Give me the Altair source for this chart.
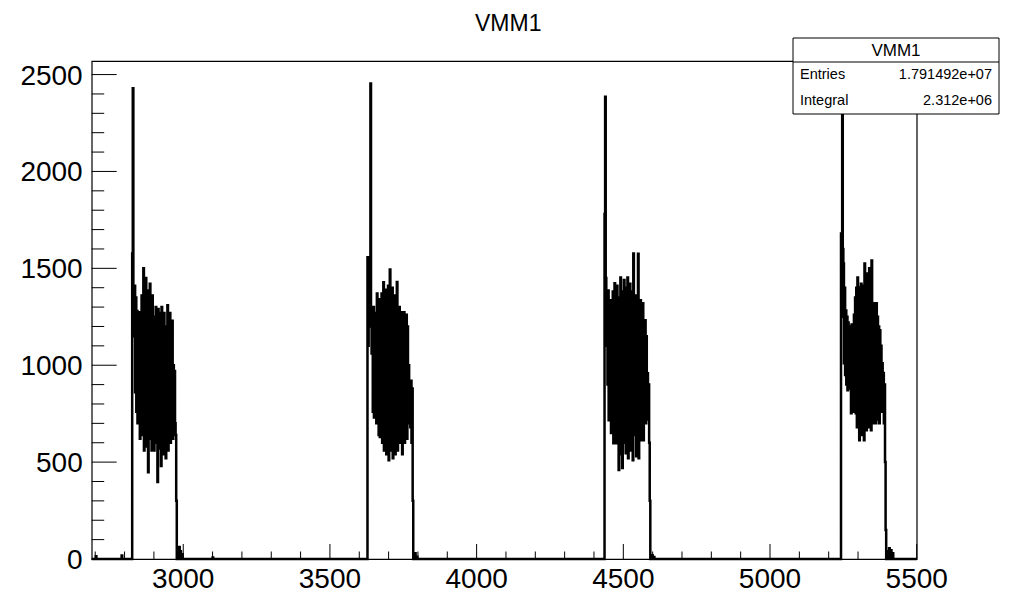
import altair as alt
import numpy as np
import pandas as pd

TITLE = "VMM1"
FONT = "Liberation Sans"

# histogram range and binning
X_MIN, X_MAX = 2688, 5500
Y_MAX = 2570
BIN_WIDTH = 2

# four bursts: first bin edge of each burst and the bin contents
burst_starts = [2826, 3628, 4436, 5242]
burst_1 = [1577, 2430, 1380, 1150, 1410, 860, 1350, 760, 1280, 700,
           1230, 960, 1273, 620, 1180, 900, 1360, 640, 1100, 1500,
           560, 1260, 1010, 1450, 580, 1320, 900, 448, 1385, 760,
           1420, 620, 1200, 560, 1360, 880, 1250, 560, 1150, 700,
           1300, 600, 1210, 397, 1290, 820, 1270, 570, 1180, 480,
           1300, 900, 1240, 540, 1270, 760, 1200, 520, 1100, 880,
           1309, 560, 1220, 900, 1270, 600, 1150, 800, 1230, 620,
           1000, 760, 970, 700, 640, 300]
burst_2 = [1557, 1100, 1480, 1200, 1520, 2454, 1250, 1060, 1230, 760,
           1300, 730, 1180, 980, 1270, 700, 1370, 900, 1310, 640,
           1340, 630, 1250, 980, 1370, 600, 1200, 1428, 560, 1320,
           880, 1390, 540, 1260, 960, 1410, 510, 1280, 1494, 560,
           1350, 900, 1400, 520, 1230, 980, 1360, 540, 1280, 860,
           1430, 560, 1270, 900, 1300, 600, 1180, 820, 1273, 540,
           1240, 880, 1273, 600, 1150, 780, 1260, 620, 1200, 700,
           1000, 760, 900, 680, 920, 600, 880, 300]
burst_3 = [1780, 2386, 1450, 1100, 1300, 900,
           1386, 716, 1300, 880, 1335, 650, 1250, 960, 1380, 597,
           1200, 1423, 700, 1330, 597, 1410, 820, 1260, 459, 1350,
           540, 1453, 900, 1380, 470, 1290, 1000, 1440, 600, 1330,
           546, 1400, 860, 1453, 520, 1250, 980, 1420, 560, 1300,
           780, 1380, 510, 1577, 640, 1300, 900, 1360, 530, 1260,
           840, 1575, 520, 1290, 900, 1335, 613, 1240, 880, 1320,
           613, 1180, 760, 1232, 700, 1150, 800, 958, 720, 900, 600, 300]
burst_4 = [1680, 1250, 2400, 1600, 1525, 1010, 1400, 950, 1283, 900,
           1250, 871, 1220, 1000, 1200, 880, 1180, 752, 1210, 900,
           1190, 760, 1260, 800, 1350, 752, 1400, 680, 1453, 820,
           1380, 613, 1402, 760, 1420, 640, 1330, 880, 1410, 613,
           1525, 700, 1450, 665, 1474, 900, 1380, 680, 1500, 720,
           1400, 665, 1541, 800, 1300, 700, 1320, 900, 1280, 700,
           1320, 720, 1250, 860, 1200, 700, 1180, 900, 1100, 760,
           1010, 820, 960, 700, 900, 500, 150]
bursts = [burst_1, burst_2, burst_3, burst_4]

# small isolated entries on the baseline
spike_x = [2702, 2790, 2986, 2990, 2996, 3100, 3790, 3796, 4598, 4604, 5400, 5406, 5412, 5418]
spike_y = [14, 18, 62, 40, 25, 8, 30, 12, 20, 10, 40, 55, 45, 30]

# axis ticks / labels
x_major = [3000, 3500, 4000, 4500, 5000, 5500]
x_labels = ["3000", "3500", "4000", "4500", "5000", "5500"]
x_minor = [v for v in range(2700, 5500, 100) if v % 500 != 0]
y_major = [0, 500, 1000, 1500, 2000, 2500]
y_labels = ["0", "500", "1000", "1500", "2000", "2500"]
y_minor = [v for v in range(100, 2570, 100) if v % 500 != 0]

# statistics box
stat_names = ["Entries", "Integral"]
stat_values = ["1.791492e+07", "2.312e+06"]

# ---------------------------------------------------------------- data table
n_bins = (X_MAX - X_MIN) // BIN_WIDTH
counts = np.zeros(n_bins)
for start, vals in zip(burst_starts, bursts):
    i0 = (start - X_MIN) // BIN_WIDTH
    counts[i0:i0 + len(vals)] = vals
for sx, sy in zip(spike_x, spike_y):
    counts[(sx - X_MIN) // BIN_WIDTH] = sy
edges = X_MIN + BIN_WIDTH * np.arange(n_bins + 1)
hist = pd.DataFrame({"x": edges, "y": np.append(counts, 0.0)})

# ---------------------------------------------------------------- layout
W, H = 825, 498
PAD_L, PAD_T = 83.7, 53
xs = alt.Scale(domain=[X_MIN, X_MAX], nice=False, zero=False)
ys = alt.Scale(domain=[0, Y_MAX], nice=False, zero=True)

line = alt.Chart(hist).mark_line(interpolate="step-after", color="black", strokeWidth=2.5).encode(
    x=alt.X("x:Q", scale=xs, axis=None),
    y=alt.Y("y:Q", scale=ys, axis=None),
)

def xticks(vals, length):
    return alt.Chart(pd.DataFrame({"t": vals})).mark_rule(color="black", strokeWidth=1).encode(
        x=alt.X("t:Q", scale=xs, axis=None), y=alt.value(H), y2=alt.value(H - length))

def yticks(vals, length):
    return alt.Chart(pd.DataFrame({"t": vals})).mark_rule(color="black", strokeWidth=1).encode(
        y=alt.Y("t:Q", scale=ys, axis=None), x=alt.value(0), x2=alt.value(length))

xlab = alt.Chart(pd.DataFrame({"t": x_major, "s": x_labels})).mark_text(
    font=FONT, fontSize=28, align="center", baseline="alphabetic", color="black").encode(
    x=alt.X("t:Q", scale=xs, axis=None), y=alt.value(H + 28.5), text="s:N")
ylab = alt.Chart(pd.DataFrame({"t": y_major, "s": y_labels})).mark_text(
    font=FONT, fontSize=28, align="right", baseline="middle", color="black", dy=2).encode(
    y=alt.Y("t:Q", scale=ys, axis=None), x=alt.value(-9), text="s:N")

one = pd.DataFrame({"a": [0]})
title = alt.Chart(one).mark_text(font=FONT, fontSize=23, align="center", baseline="alphabetic",
                                 color="black").encode(
    x=alt.value(W / 2 + 4), y=alt.value(-30), text=alt.value(TITLE))

BX0, BX1 = 793 - 91.7, 999 - 91.7
BY0, BSEP, BY1 = 38 - 61, 62 - 61, 114 - 61

box = alt.Chart(one).mark_rect(fill="white", stroke="black", strokeWidth=1).encode(
    x=alt.value(BX0), x2=alt.value(BX1), y=alt.value(BY0), y2=alt.value(BY1))
sep = alt.Chart(one).mark_rule(color="black", strokeWidth=1).encode(
    x=alt.value(BX0), x2=alt.value(BX1), y=alt.value(BSEP))
box_title = alt.Chart(one).mark_text(font=FONT, fontSize=17, align="center", baseline="middle",
                                     color="black").encode(
    x=alt.value((BX0 + BX1) / 2), y=alt.value((BY0 + BSEP) / 2 + 1), text=alt.value(TITLE))

stat_layers = []
row_h = (BY1 - BSEP) / len(stat_names)
for i, (name, val) in enumerate(zip(stat_names, stat_values)):
    yc = BSEP + row_h * (i + 0.5)
    stat_layers.append(alt.Chart(one).mark_text(font=FONT, fontSize=14.5, align="left",
                                                baseline="middle", color="black").encode(
        x=alt.value(BX0 + 7), y=alt.value(yc), text=alt.value(name)))
    stat_layers.append(alt.Chart(one).mark_text(font=FONT, fontSize=14.5, align="right",
                                                baseline="middle", color="black").encode(
        x=alt.value(BX1 - 7), y=alt.value(yc), text=alt.value(val)))

chart = alt.layer(
    line,
    xticks(x_major, 15), xticks(x_minor, 7.5),
    yticks(y_major, 25), yticks(y_minor, 12.5),
    xlab, ylab, title,
    box, sep, box_title, *stat_layers,
).properties(
    width=W, height=H,
    background="white",
    autosize=alt.AutoSizeParams(type="none"),
    padding={"left": PAD_L, "top": PAD_T, "right": 999 - PAD_L - W, "bottom": 36},
).configure_view(
    stroke="black", strokeWidth=1.2
)

chart.save("out.html", embed_options={"renderer": "svg", "actions": False})
